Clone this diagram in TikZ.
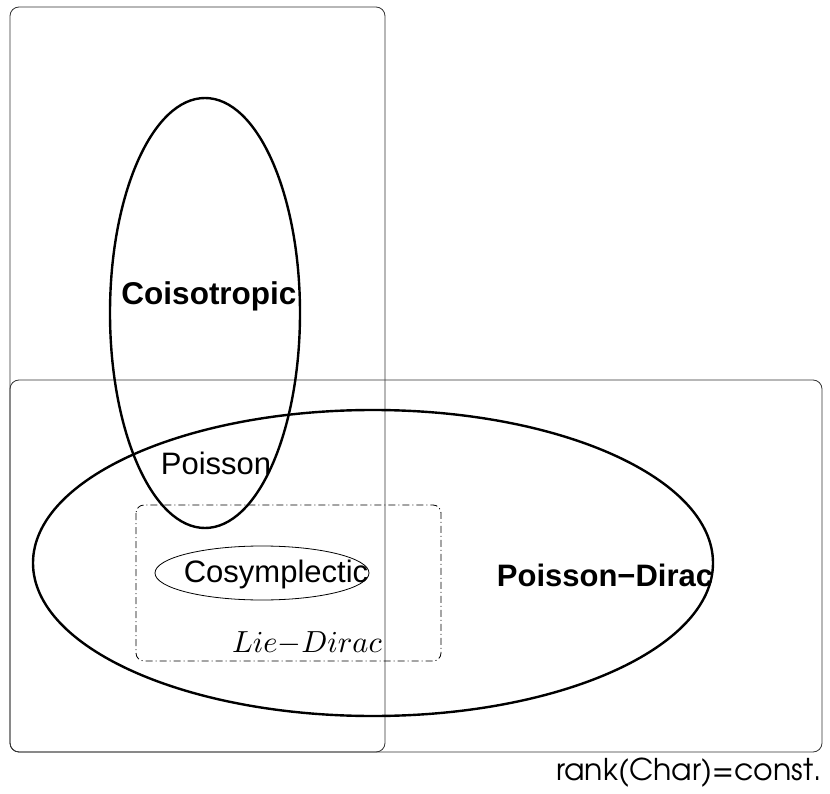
\documentclass[tikz,border=0pt]{standalone}
\usepackage{fontspec}
\setmainfont{Liberation Sans}
\newfontfamily\rankfont{texgyreadventor-regular.otf}
\usetikzlibrary{shapes,positioning}

\tikzset{
  region/.style={draw=black!80, line width=0.8pt, rounded corners=9pt},
  classe/.style={draw, line width=2.4pt},
  liebox/.style={draw, line width=0.8pt, rounded corners=8pt,
                 dash pattern=on 7pt off 3pt on 1pt off 3pt},
  lab/.style={font=\fontsize{31}{31}\selectfont, inner sep=0pt}
}

\begin{document}
\begin{tikzpicture}[x=1pt,y=-1pt]
\useasboundingbox (0,0) rectangle (830,794);
% the two rectangles
\draw[region] (10,7) rectangle (385,752);
\draw[region] (10,380) rectangle (822,752);
% big ellipses
\draw[classe] (205,313) ellipse [x radius=95, y radius=215];
\draw[classe] (373,563) ellipse [x radius=340, y radius=153];
% Lie-Dirac box
\draw[liebox] (136,505) rectangle (441,661);
\draw[line width=0.8pt] (262,573) ellipse [x radius=107, y radius=27];
% labels
\node[lab, font=\fontsize{31.5}{31}\selectfont\bfseries] (coiso) at (209,296) {Coisotropic};
\node[lab] (poisson) at (216,463) {Poisson};
\node[lab] (cosym) at (276,574) {Cosymplectic};
\node[lab, font=\fontsize{31}{31}\selectfont\bfseries] (pdirac) at (605,575) {Poisson{\char"2212}Dirac};
\node[inner sep=0pt, font=\fontsize{10}{10}\selectfont, scale=3.05] (ldirac) at (307,643) {$Lie{-}Dirac$};
\node[lab, font=\fontsize{30}{31}\selectfont\rankfont, anchor=east] (rank) at (822,773) {rank(Char)=const.};
\end{tikzpicture}
\end{document}
